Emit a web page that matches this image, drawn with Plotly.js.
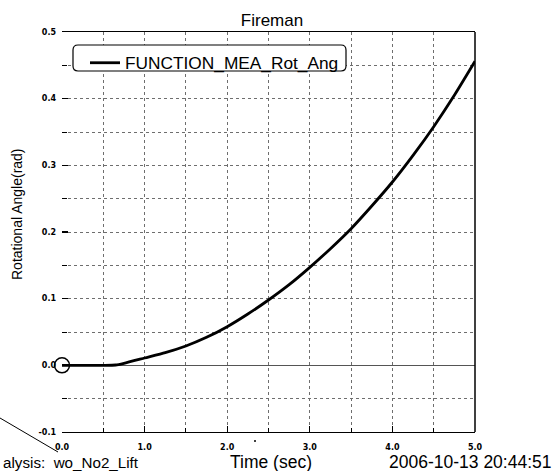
<!DOCTYPE html>
<html>
<head>
<meta charset="utf-8">
<script src="https://cdn.plot.ly/plotly-3.0.1.min.js"></script>
<style>html,body{margin:0;padding:0;background:#fff;}#chart{width:555px;height:471px;}</style>
</head>
<body>
<div id="chart"></div>
<script>
// ---- data ----
const timeSec = [0, 0.25, 0.5, 0.65, 0.75, 1.0, 1.25, 1.5, 1.75, 2.0, 2.25, 2.5, 2.75, 3.0, 3.25, 3.5, 3.75, 4.0, 4.25, 4.5, 4.75, 5.0];
const rotAngle = [0, 0, 0, 0.0005, 0.003, 0.011, 0.019, 0.029, 0.042, 0.058, 0.077, 0.098, 0.121, 0.147, 0.175, 0.205, 0.239, 0.275, 0.315, 0.358, 0.405, 0.456];
const seriesName = 'FUNCTION_MEA_Rot_Ang';
const startTime = [0];
const startAngle = [0];
const xTickVals = [0, 1, 2, 3, 4, 5];
const xTickLabels = ['0.0', '1.0', '2.0', '3.0', '4.0', '5.0'];
const yTickVals = [-0.1, 0, 0.1, 0.2, 0.3, 0.4, 0.5];
const yTickLabels = ['-0.1', '0.0', '0.1', '0.2', '0.3', '0.4', '0.5'];

// ---- pixel helpers (plot area: x 62..475, y 32..432) ----
const L = 62, R = 475, T = 32, B = 432;
const px = x => (x - L) / (R - L);
const py = y => (B - y) / (B - T);
function roundRect(x0, y0, x1, y1, r) {
  const P = (x, y) => px(x).toFixed(5) + ',' + py(y).toFixed(5);
  return 'M' + P(x0 + r, y0) + ' L' + P(x1 - r, y0) + ' Q' + P(x1, y0) + ' ' + P(x1, y0 + r) +
    ' L' + P(x1, y1 - r) + ' Q' + P(x1, y1) + ' ' + P(x1 - r, y1) +
    ' L' + P(x0 + r, y1) + ' Q' + P(x0, y1) + ' ' + P(x0, y1 - r) +
    ' L' + P(x0, y0 + r) + ' Q' + P(x0, y0) + ' ' + P(x0 + r, y0) + ' Z';
}

const gridColor = '#6e6e6e';
const tickFont = {family: 'DejaVu Sans', size: 8, color: '#000', weight: 'bold'};
const txtFont = {family: 'Liberation Sans, Arial', size: 17.5, color: '#000'};

const traces = [
  {
    x: timeSec, y: rotAngle, type: 'scatter', mode: 'lines', name: seriesName,
    line: {color: '#000', width: 2.8, shape: 'spline', smoothing: 0.6},
    cliponaxis: false
  },
  {
    x: startTime, y: startAngle, type: 'scatter', mode: 'markers', showlegend: false,
    marker: {symbol: 'circle-open', size: 15, color: '#000', line: {width: 1.5, color: '#000'}},
    cliponaxis: false
  }
];

const layout = {
  width: 555, height: 471,
  margin: {l: L, r: 555 - R, t: T, b: 471 - B},
  paper_bgcolor: '#fff', plot_bgcolor: '#fff',
  showlegend: true,
  legend: {
    x: px(85), y: py(45), xanchor: 'left', yanchor: 'top',
    bgcolor: 'rgba(0,0,0,0)', borderwidth: 0,
    font: {family: 'Liberation Sans, Arial', size: 17.3, color: '#000'},
    itemwidth: 30, tracegroupgap: 0
  },
  title: {
    text: 'Fireman', x: px(272), xref: 'paper', xanchor: 'center',
    y: 1 - 20 / 471, yref: 'container', yanchor: 'middle',
    font: {family: 'Liberation Sans, Arial', size: 17, color: '#000'}
  },
  xaxis: {
    range: [0, 5], tickvals: xTickVals, ticktext: xTickLabels,
    ticks: 'inside', ticklen: 6, tickwidth: 1.2, tickcolor: '#000',
    showline: true, mirror: true, linecolor: '#000', linewidth: 1.2,
    showgrid: true, gridcolor: gridColor, gridwidth: 1, griddash: 'dot',
    zeroline: false, tickfont: tickFont, ticklabelstandoff: 7,
    minor: {dtick: 0.5, showgrid: true, gridcolor: gridColor, gridwidth: 1, griddash: 'dot',
            ticks: 'inside', ticklen: 4, tickcolor: '#000', tickwidth: 1}
  },
  yaxis: {
    range: [-0.1, 0.5], tickvals: yTickVals, ticktext: yTickLabels,
    ticks: 'inside', ticklen: 6, tickwidth: 1.2, tickcolor: '#000',
    showline: false,
    showgrid: true, gridcolor: gridColor, gridwidth: 1, griddash: 'dot',
    zeroline: true, zerolinecolor: '#555', zerolinewidth: 1.2,
    tickfont: tickFont, ticklabelstandoff: 5,
    minor: {dtick: 0.05, showgrid: true, gridcolor: gridColor, gridwidth: 1, griddash: 'dot',
            ticks: 'inside', ticklen: 5, tickcolor: '#000', tickwidth: 1}
  },
  shapes: [
    {type: 'line', xref: 'paper', yref: 'paper', x0: 1, x1: 1, y0: 0, y1: 1, line: {color: '#000', width: 1.5}},
    {type: 'path', xref: 'paper', yref: 'paper', layer: 'above', path: roundRect(73, 45, 346, 71, 5),
     fillcolor: '#fff', line: {color: '#000', width: 1.2}},
    {type: 'line', xref: 'paper', yref: 'paper', x0: px(0), y0: py(418), x1: px(58), y1: py(452), line: {color: '#000', width: 1}},
    {type: 'circle', xref: 'paper', yref: 'paper', x0: px(254), x1: px(256), y0: py(440), y1: py(442), fillcolor: '#000', line: {width: 0}}
  ],
  annotations: [
    {text: 'Rotational Angle(rad)', textangle: -90, xref: 'paper', yref: 'paper', x: px(17), y: py(214),
     xanchor: 'center', yanchor: 'middle', showarrow: false, font: {family: 'Liberation Sans, Arial', size: 14, color: '#000'}},
    {text: 'Time (sec)', xref: 'paper', yref: 'paper', x: px(271), y: py(462), xanchor: 'center', yanchor: 'middle',
     showarrow: false, font: txtFont},
    {text: '2006-10-13 20:44:51', xref: 'paper', yref: 'paper', x: px(554), y: py(462), xanchor: 'right', yanchor: 'middle',
     showarrow: false, font: txtFont},
    {text: 'alysis:  wo_No2_Lift', xref: 'paper', yref: 'paper', x: px(1), y: py(462), xanchor: 'left', yanchor: 'middle',
     showarrow: false, font: {family: 'Liberation Sans, Arial', size: 15.2, color: '#000'}}
  ]
};

Plotly.newPlot('chart', traces, layout, {displayModeBar: false, staticPlot: true});
</script>
</body>
</html>
